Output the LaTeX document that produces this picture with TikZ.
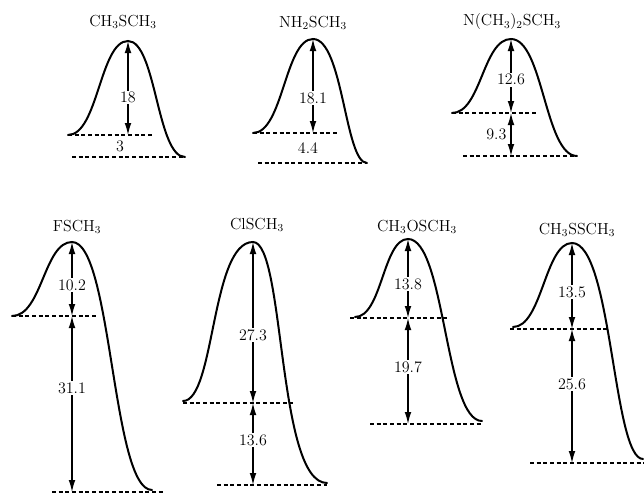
\documentclass[tikz,border=0pt]{standalone}
\usetikzlibrary{arrows.meta}
\tikzstyle{barrier} = [line width=1.5pt, line cap=round]
\tikzstyle{refline} = [dash pattern=on 3pt off 2pt, line width=0.8pt]
\tikzstyle{dimarrow} = [{Latex[length=9pt,width=5pt]}-{Latex[length=9pt,width=5pt]}, line width=0.9pt]
\tikzstyle{val} = [fill=white, inner sep=1pt, font=\fontsize{12}{14}\selectfont]
\tikzstyle{molname} = [inner sep=0pt, font=\fontsize{12}{14}\selectfont]

\begin{document}
\begin{tikzpicture}[x=0.75pt, y=-0.75pt]
        \useasboundingbox (0,0) rectangle (644,493);

        % CH3SCH3
        \coordinate (l1) at (68,135);
        \coordinate (pk1) at (128,41);
        \coordinate (r1) at (185,157);
        \coordinate (m1) at (128,135);
        \coordinate (e1) at (152,135);
        \coordinate (b1) at (72,157);
        \node[molname] (t1) at (123,22) {CH$_3$SCH$_3$};
        \draw[barrier] (l1) .. controls +(30,0) and +(-28,0) .. (pk1) .. controls +(28,0) and +(-28,0) .. (r1);
        \draw[refline] (l1) -- (e1);
        \draw[refline] (b1) -- (r1);
        \draw[dimarrow] (pk1) -- node[val, pos=0.6] {18} (m1);
        \node[val] (v1) at (120,146) {3};

        % NH2SCH3
        \coordinate (l2) at (253,133);
        \coordinate (pk2) at (313,39);
        \coordinate (r2) at (367,163);
        \coordinate (m2) at (313,133);
        \coordinate (e2) at (337,133);
        \coordinate (b2) at (258,163);
        \node[molname] (t2) at (313,23) {NH$_2$SCH$_3$};
        \draw[barrier] (l2) .. controls +(30,0) and +(-28,0) .. (pk2) .. controls +(30,0) and +(-22,0) .. (r2);
        \draw[refline] (l2) -- (e2);
        \draw[refline] (b2) -- (r2);
        \draw[dimarrow] (pk2) -- node[val, pos=0.63] {18.1} (m2);
        \node[val] (v2) at (308,148) {4.4};

        % N(CH3)2SCH3
        \coordinate (l3) at (452,113);
        \coordinate (pk3) at (511,39);
        \coordinate (r3) at (577,156);
        \coordinate (m3) at (511,113);
        \coordinate (e3) at (537,113);
        \coordinate (b3) at (463,156);
        \coordinate (n3) at (511,156);
        \node[molname] (t3) at (512,22) {N(CH$_3$)$_2$SCH$_3$};
        \draw[barrier] (l3) .. controls +(29,0) and +(-28,0) .. (pk3) .. controls +(32,0) and +(-32,0) .. (r3);
        \draw[refline] (l3) -- (e3);
        \draw[refline] (b3) -- (r3);
        \draw[dimarrow] (pk3) -- node[val, pos=0.55] {12.6} (m3);
        \draw[dimarrow] (m3) -- node[val, left, fill=none, xshift=-2pt] {9.3} (n3);

        % FSCH3
        \coordinate (l4) at (12,316);
        \coordinate (pk4) at (72,242);
        \coordinate (r4) at (152,490);
        \coordinate (m4) at (72,316);
        \coordinate (e4) at (97,316);
        \coordinate (b4) at (52,492);
        \coordinate (n4) at (72,492);
        \coordinate (f4) at (165,492);
        \node[molname] (t4) at (77,227) {FSCH$_3$};
        \draw[barrier] (l4) .. controls +(30,0) and +(-28,0) .. (pk4) .. controls +(40,0) and +(-40,0) .. (r4);
        \draw[refline] (l4) -- (e4);
        \draw[refline] (b4) -- (f4);
        \draw[dimarrow] (pk4) -- node[val, pos=0.58] {10.2} (m4);
        \draw[dimarrow] (m4) -- node[val, pos=0.41] {31.1} (n4);

        % ClSCH3
        \coordinate (l5) at (183,401);
        \coordinate (pk5) at (253,242);
        \coordinate (r5) at (327,483);
        \coordinate (m5) at (253,403);
        \coordinate (e5) at (293,403);
        \coordinate (u5) at (183,403);
        \coordinate (b5) at (217,485);
        \coordinate (n5) at (253,485);
        \coordinate (f5) at (327,485);
        \node[molname] (t5) at (257,225) {ClSCH$_3$};
        \draw[barrier] (l5) .. controls +(32,0) and +(-42,0) .. (pk5) .. controls +(32,0) and +(-50,0) .. (r5);
        \draw[refline] (u5) -- (e5);
        \draw[refline] (b5) -- (f5);
        \draw[dimarrow] (pk5) -- node[val, pos=0.58] {27.3} (m5);
        \draw[dimarrow] (m5) -- node[val, pos=0.45] {13.6} (n5);

        % CH3OSCH3
        \coordinate (l6) at (355,317);
        \coordinate (pk6) at (408,239);
        \coordinate (r6) at (482,421);
        \coordinate (m6) at (408,318);
        \coordinate (u6) at (350,318);
        \coordinate (e6) at (447,318);
        \coordinate (b6) at (370,424);
        \coordinate (n6) at (408,424);
        \coordinate (f6) at (483,424);
        \node[molname] (t6) at (417,227) {CH$_3$OSCH$_3$};
        \draw[barrier] (l6) .. controls +(27,0) and +(-25,0) .. (pk6) .. controls +(37,0) and +(-37,0) .. (r6);
        \draw[refline] (u6) -- (e6);
        \draw[refline] (b6) -- (f6);
        \draw[dimarrow] (pk6) -- node[val, pos=0.57] {13.8} (m6);
        \draw[dimarrow] (m6) -- node[val, pos=0.46] {19.7} (n6);

        % CH3SSCH3
        \coordinate (l7) at (513,327);
        \coordinate (pk7) at (572,243);
        \coordinate (r7) at (643,459);
        \coordinate (m7) at (572,329);
        \coordinate (u7) at (510,329);
        \coordinate (e7) at (607,329);
        \coordinate (b7) at (530,463);
        \coordinate (n7) at (572,463);
        \coordinate (f7) at (644,463);
        \node[molname] (t7) at (577,230) {CH$_3$SSCH$_3$};
        \draw[barrier] (l7) .. controls +(29,0) and +(-27,0) .. (pk7) .. controls +(40,0) and +(-30,0) .. (r7);
        \draw[refline] (u7) -- (e7);
        \draw[refline] (b7) -- (f7);
        \draw[dimarrow] (pk7) -- node[val, pos=0.57] {13.5} (m7);
        \draw[dimarrow] (m7) -- node[val, pos=0.41] {25.6} (n7);
\end{tikzpicture}
\end{document}
